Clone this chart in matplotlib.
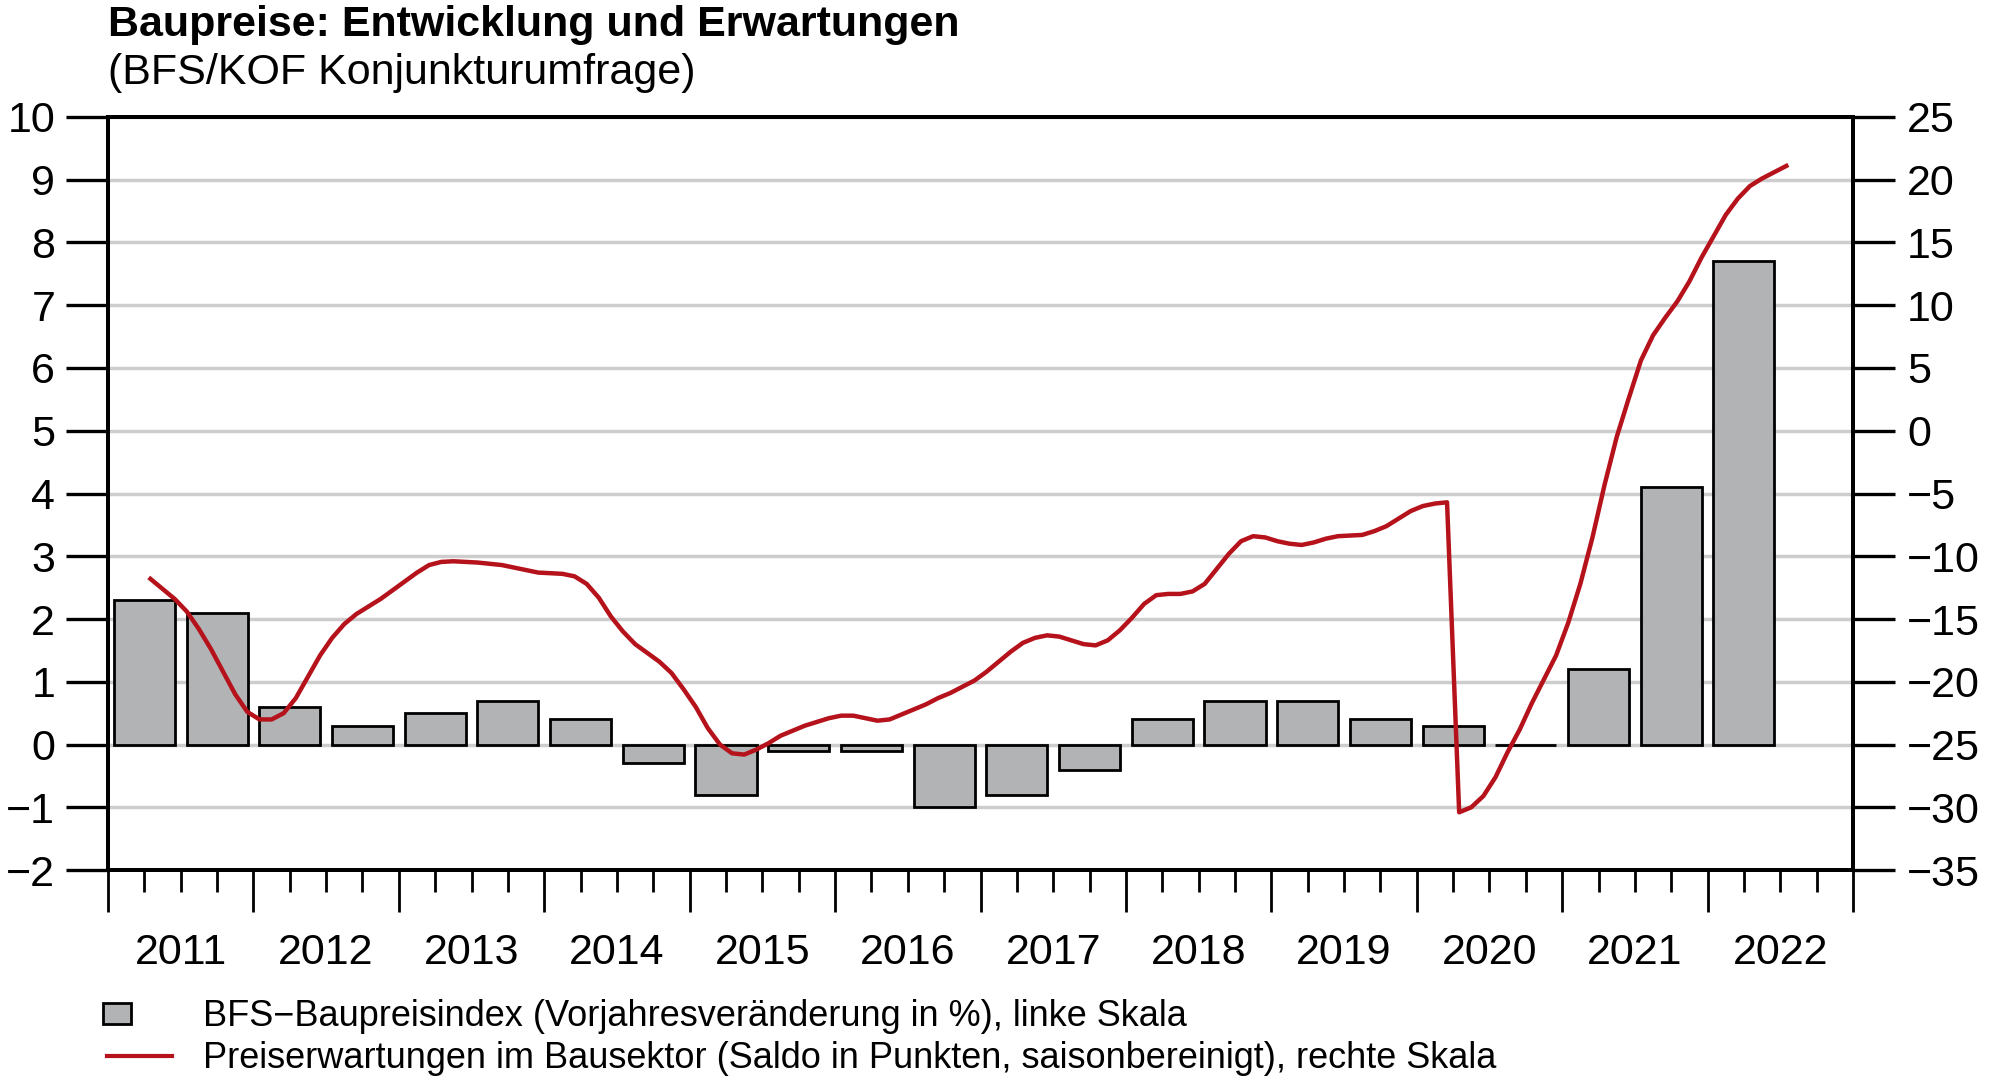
import numpy as np
import matplotlib.pyplot as plt
from matplotlib.lines import Line2D
from matplotlib.patches import Rectangle
from matplotlib.legend_handler import HandlerPatch
from matplotlib.ticker import MultipleLocator, FixedLocator, FuncFormatter

plt.rcParams['font.family'] = ['Liberation Sans', 'DejaVu Sans']

# BFS-Baupreisindex, Vorjahresveraenderung in % (halbjaehrlich)
bar_years = [2011, 2011, 2012, 2012, 2013, 2013, 2014, 2014, 2015, 2015, 2016, 2016,
             2017, 2017, 2018, 2018, 2019, 2019, 2020, 2020, 2021, 2021, 2022]
bar_halves = [1, 2, 1, 2, 1, 2, 1, 2, 1, 2, 1, 2, 1, 2, 1, 2, 1, 2, 1, 2, 1, 2, 1]
bar_values = [2.3, 2.1, 0.6, 0.3, 0.5, 0.7, 0.4, -0.3, -0.8, -0.1, -0.1, -1.0,
              -0.8, -0.4, 0.4, 0.7, 0.7, 0.4, 0.3, 0.0, 1.2, 4.1, 7.7]

# Preiserwartungen im Bausektor, monatlich ab April 2011
exp_start_year = 2011
exp_start_month = 4
exp_values = [
    -11.8, -12.6, -13.4, -14.4, -15.8, -17.4, -19.2, -21.0, -22.4,               # 2011
    -23.0, -23.0, -22.5, -21.3, -19.6, -17.9, -16.5, -15.4, -14.6, -14.0, -13.4, -12.7,  # 2012
    -12.0, -11.3, -10.7, -10.45, -10.4, -10.45, -10.5, -10.6, -10.7, -10.9, -11.1, -11.3,  # 2013
    -11.35, -11.4, -11.6, -12.2, -13.3, -14.8, -16.0, -17.0, -17.7, -18.4, -19.3, -20.6,  # 2014
    -22.0, -23.7, -25.0, -25.7, -25.8, -25.4, -24.9, -24.3, -23.9, -23.5, -23.2, -22.9,  # 2015
    -22.7, -22.7, -22.9, -23.1, -23.0, -22.6, -22.2, -21.8, -21.3, -20.9, -20.4, -19.9,  # 2016
    -19.2, -18.4, -17.6, -16.9, -16.5, -16.3, -16.4, -16.7, -17.0, -17.1, -16.7, -15.9,  # 2017
    -14.9, -13.8, -13.1, -13.0, -13.0, -12.8, -12.2, -11.0, -9.8, -8.8, -8.4, -8.5,  # 2018
    -8.8, -9.0, -9.1, -8.9, -8.6, -8.4, -8.35, -8.3, -8.0, -7.6, -7.0, -6.4,  # 2019
    -6.0, -5.8, -5.7, -30.4, -30.0, -29.1, -27.6, -25.6, -23.8, -21.7, -19.8, -17.9,  # 2020
    -15.3, -12.2, -8.5, -4.3, -0.5, 2.6, 5.6, 7.6, 9.0, 10.3, 11.9, 13.8,  # 2021
    15.5, 17.2, 18.5, 19.5, 20.1, 20.6, 21.1,  # 2022
]

years = list(range(2011, 2023))

bar_x = np.array(bar_years) + np.where(np.array(bar_halves) == 1, 0.25, 0.75)
exp_x = exp_start_year + (exp_start_month - 1 + np.arange(len(exp_values)) + 0.5) / 12

fig = plt.figure(figsize=(20, 10.8), dpi=100)
ax = fig.add_axes([0.054, 0.1944, 0.8725, 0.6973])
ax2 = ax.twinx()

grey = '#b2b3b5'
red = '#b5121b'
grid_col = '#cdcdcd'

ax.bar(bar_x, bar_values, width=0.42, color=grey, edgecolor='black', linewidth=2.0, zorder=3)
ax2.plot(exp_x, exp_values, color=red, linewidth=3.2, zorder=4)

ax.set_xlim(2011, 2023)
ax.set_ylim(-2, 10)
ax2.set_ylim(-35, 25)
ax.yaxis.set_major_locator(MultipleLocator(1))
ax2.yaxis.set_major_locator(MultipleLocator(5))
ax.grid(axis='y', color=grid_col, linewidth=2.5, zorder=0)
ax.set_axisbelow(True)

# x axis: long ticks at year starts, short ticks at quarters, labels mid-year
ax.xaxis.set_major_locator(FixedLocator(years + [2023]))
ax.xaxis.set_major_formatter(FuncFormatter(lambda v, p: ''))
quarters = [y + q for y in years for q in (0.25, 0.5, 0.75)]
ax.xaxis.set_minor_locator(FixedLocator(quarters))
ax.xaxis.set_minor_formatter(FuncFormatter(lambda v, p: str(int(v)) if abs(v % 1 - 0.5) < 1e-6 else ''))
ax.tick_params(axis='x', which='major', length=30, width=2.0, direction='out')
ax.tick_params(axis='x', which='minor', length=16, width=2.0, direction='out', pad=29, labelsize=31)

ax.tick_params(axis='y', length=30, width=2.4, direction='out', pad=8, labelsize=31)
ax2.tick_params(axis='y', length=30, width=2.4, direction='out', pad=9, labelsize=31)

for a in (ax, ax2):
    for s in a.spines.values():
        s.set_linewidth(2.8)

fig.text(0.054, 0.967, 'Baupreise: Entwicklung und Erwartungen', fontsize=31,
         fontweight='bold', ha='left', va='baseline')
fig.text(0.054, 0.922, '(BFS/KOF Konjunkturumfrage)', fontsize=31, ha='left', va='baseline')


def legend_box(legend, orig_handle, xdescent, ydescent, width, height, fontsize):
    return Rectangle((-xdescent - 3, -ydescent + height / 2 - 7.5), 20, 15)


bar_handle = Rectangle((0, 0), 1, 1, facecolor=grey, edgecolor='black', linewidth=2.0)
line_handle = Line2D([], [], color=red, linewidth=3.0)
labels = ['BFS\u2212Baupreisindex (Vorjahresver\u00e4nderung in %), linke Skala',
          'Preiserwartungen im Bausektor (Saldo in Punkten, saisonbereinigt), rechte Skala']
fig.legend([bar_handle, line_handle], labels, loc='upper left', bbox_to_anchor=(0.0535, 0.075),
           frameon=False, fontsize=26, handlelength=1.8, handletextpad=0.86,
           labelspacing=0.2, borderpad=0, borderaxespad=0,
           handler_map={Rectangle: HandlerPatch(patch_func=legend_box)})

fig.savefig('out.png', dpi=100)
